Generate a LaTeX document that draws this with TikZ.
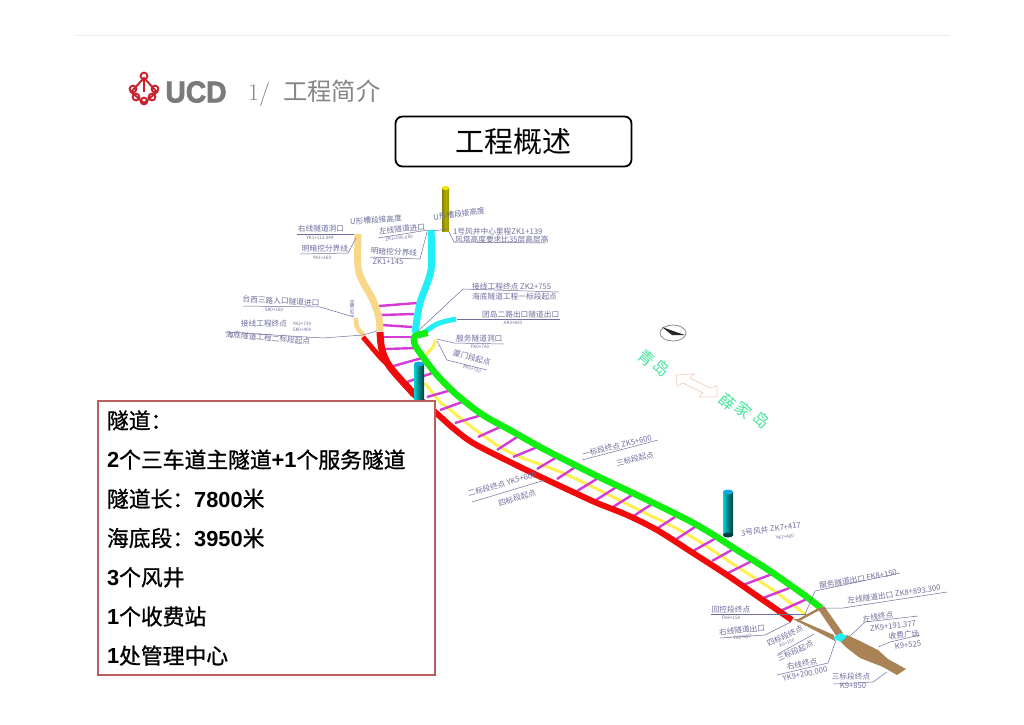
\documentclass[tikz,border=0pt]{standalone}
\usepackage{fontspec}
\usepackage{tikz}
\usetikzlibrary{calc,positioning}
\newfontfamily\cjk{Noto Sans CJK SC}
\newfontfamily\cjkbox[FakeBold=0.9]{Noto Sans CJK SC}
\newfontfamily\liber{Liberation Sans}
\newfontfamily\liberheavy[FakeBold=2.5]{Liberation Sans Bold}
\newcommand{\boxnum}[1]{{\liber\bfseries #1}}
\definecolor{tubered}{HTML}{F00A0A}
\definecolor{tubegreen}{HTML}{12EE12}
\definecolor{tubecyan}{HTML}{22EEF6}
\definecolor{tubeorange}{HTML}{F8D888}
\definecolor{tubeyellow}{HTML}{FFF050}
\definecolor{rungcol}{HTML}{D63AD6}
\definecolor{plazacol}{HTML}{A98255}
\definecolor{labelcol}{HTML}{6E6E9E}
\definecolor{islandcol}{HTML}{45E79A}
\definecolor{logored}{HTML}{C8202C}
\definecolor{boxred}{HTML}{BE5C5C}
\definecolor{shaftolive}{HTML}{B3AD00}
\tikzset{
  tube/.style={line width=#1,line join=round},
  rung/.style={rungcol,line width=2.4pt},
  lab/.style={font=\cjk\fontsize{7.7}{7.7}\selectfont,text=labelcol,inner sep=0pt},
  sublab/.style={font=\cjk\fontsize{4.6}{4.6}\selectfont,text=labelcol,inner sep=0pt},
  lead/.style={labelcol,line width=0.5pt},
  island/.style={font=\cjk\fontsize{16}{16}\selectfont,text=islandcol,inner sep=0pt,rotate=-40}
}
\begin{document}
\begin{tikzpicture}[x=1pt,y=-1pt]
\useasboundingbox (0,0) rectangle (1024,724);
\fill[white] (0,0) rectangle (1024,724);
\draw[black!8,line width=0.6pt] (75,35) -- (950,35);

\foreach \cx/\cy in {144/76,133/89,155/89,136/97,152/97,144/101}
  \draw[logored,line width=1.9pt] (\cx,\cy) circle (3.4);
\draw[logored,line width=1.9pt] (144,78) -- (131,92) -- (144,103) -- (157,92) -- cycle;
\fill[logored] (142.6,80) rectangle (145.4,92);
\node[inner sep=0pt,text=black!52,font=\liberheavy\fontsize{30}{30}\selectfont,xscale=.94] (ucd) at (196,92) {UCD};
\node[inner sep=0pt,text=black!48,font=\fontsize{24}{24}\selectfont,right] (sect) at (248,93) {1/\hspace{13pt}{\cjk\fontsize{24.3}{24.3}\selectfont 工程简介}};

\node[shape=rectangle,draw,rounded corners=7pt,line width=1.8pt,minimum width=236pt,minimum height=50pt,font=\cjk\fontsize{29}{29}\selectfont,inner sep=0pt] (title) at (513.5,141.5) {\raisebox{-2pt}{工程概述}};

\draw[tubeyellow,line width=3pt] plot[smooth] coordinates {(425,383) (440,402) (453,412) (473,428) (500,447) (523,458) (563,473) (603,492) (643,512) (670,525) (697,540) (730,562) (773,590) (793,605) (805,614)};
\draw[tubeyellow,line width=3pt] plot[smooth] coordinates {(435,340) (433,347) (422,358)};

\foreach \ax/\ay/\bx/\by in {379/306/417/303,381/315/414/314,382/325/412/327,383/337/413/337,385/349/417/348,390/367/422/358,407/382/435/372,427/397/455/389,440/410/465/401,455/423/482/415,478/437/500/427,497/450/517/437,513/457/540/446,537/469/557/457,557/479/577/466,577/491/600/477,596/500/618/486,613/507/632/495,632/517/652/504,655/530/678/515,675/540/698/525,693/551/718/537,712/561/737/547,728/573/756/559,743/585/775/573,763/598/792/587,780/611/807/599}
  \draw[rung] (\ax,\ay) -- (\bx,\by);

\draw[tubeorange,tube=7pt] plot[smooth] coordinates {(358,234) (358,267) (363,282) (373,300) (379,318) (380,331)};
\draw[tubeorange,tube=4.5pt] plot[smooth] coordinates {(356,318) (357,327) (364,336)};
\draw[tubecyan,tube=7pt] plot[smooth] coordinates {(431,230) (431,270) (420,303) (415,333)};
\draw[tubecyan,tube=5pt] plot[smooth] coordinates {(418,337) (437,324) (456,319)};
\draw[tubered,tube=7pt] plot[smooth] coordinates {(380,332) (382,350) (390,367) (413,393)};
\draw[tubered,tube=5pt] plot[smooth] coordinates {(363,337) (380,357) (392,369)};
\draw[tubered,tube=6pt] plot[smooth] coordinates {(412,393) (435,412) (453,428) (473,443) (510,462) (543,478) (573,492) (597,503) (627,515) (657,530) (693,553) (727,575) (760,598) (792,620)};
\draw[tubegreen,tube=6.5pt] plot[smooth] coordinates {(428,333) (415,336) (415,345) (423,357) (437,375) (457,395) (483,415) (510,430) (540,447) (575,465) (597,476) (637,495) (678,515) (697,525) (717,537) (737,550) (753,560) (773,573) (793,587) (807,597) (821,608)};

\fill[plazacol] (793,619) -- (797,619) -- (834,635) -- (835,641) -- cycle;
\fill[plazacol] (818,609) -- (824,606) -- (843,633) -- (837,637) -- cycle;
\draw[plazacol,line width=2.4pt] (797,621) -- (819,609);
\fill[plazacol] (840,641) -- (847,635) -- (860,641) -- (878,650) -- (888,659) -- (906,669) -- (897,675) -- (883,667) -- (860,658) -- (847,648) -- cycle;
\fill[tubecyan] (833,638) -- (840,633) -- (847,636) -- (841,642) -- cycle;

\shade[left color=shaftolive!75!black,right color=shaftolive!85!black,middle color=shaftolive] (442,188) rectangle (449,231);
\fill[yellow!90!olive] (445.5,188) ellipse [x radius=3.5,y radius=2];
\shade[left color=cyan!70!teal,right color=teal!50!black,middle color=teal] (414,364) rectangle (424,402);
\fill[cyan!85!teal] (419,364) ellipse [x radius=5,y radius=2.5];
\shade[left color=cyan!70!teal,right color=teal!50!black,middle color=teal] (723,492) rectangle (733,535);
\fill[cyan!85!teal] (728,492) ellipse [x radius=5,y radius=2.5];
\fill[teal!50!black] (728,535) ellipse [x radius=5,y radius=2.5];

\draw[lead] (297,234) -- (354,234);
\draw[lead] (300,254) -- (348,253) -- (356,238);
\draw[lead] (378,238) -- (428,230);
\draw[lead] (370,257) -- (420,259) -- (427,232);
\draw[lead] (433,231) -- (447,229);
\draw[lead] (449,232) -- (454,242) -- (545,243);
\draw[lead] (418,331) -- (463,289) -- (559,292);
\draw[lead] (457,319) -- (560,319);
\draw[lead] (437,339) -- (454,343) -- (504,344);
\draw[lead] (437,341) -- (447,360) -- (487,370);
\draw[lead] (243,306) -- (320,307) -- (354,317);
\draw[lead] (225,332) -- (323,338) -- (363,335) -- (377,331);
\draw[lead] (472,502) -- (545,480);
\draw[lead] (582,460) -- (658,440);
\draw[lead] (815,591) -- (805,614);
\draw[lead] (815,591) -- (900,573);
\draw[lead] (821,608) -- (843,608) -- (947,592);
\draw[lead] (711,614) -- (806,614);
\draw[lead] (720,638) -- (765,635) -- (791,622);
\draw[lead] (778,654) -- (814,634);
\draw[lead] (777,675) -- (828,663) -- (836,640);
\draw[lead] (850,636) -- (865,622) -- (918,616);
\draw[lead] (878,647) -- (890,642) -- (920,635);
\draw[lead] (833,684) -- (873,682) -- (887,672);

\node[lab] (rin) at (321,229) {右线隧道洞口};
\node[sublab] (rinkm) at (320,238) {YK1+112.044};
\node[lab,rotate=4] (rcut) at (376,220) {U形槽段接高度};
\node[lab,rotate=6] (lin) at (402,229) {左线隧道进口};
\node[sublab,rotate=6] (linkm) at (399,238) {ZK1+095.080};
\node[lab] (rbnd) at (325,249) {明暗挖分界线};
\node[sublab] (rbndkm) at (322,258) {YK1+160};
\node[lab,rotate=-3] (lbnd) at (394,252) {明暗挖分界线};
\node[lab] (lbndkm) at (388,262) {ZK1+145};
\node[lab,rotate=8] (lcut) at (459,214) {U形槽段接高度};
\node[lab,right] (shaft) at (453,232) {1号风井中心里程ZK1+139};
\node[lab,right] (shafth) at (455,240) {风塔高度要求比35层高层高};
\node[lab,right] (endtwo) at (472,287) {接线工程终点 ZK2+755};
\node[lab,right] (startone) at (472,297) {海底隧道工程一标段起点};
\node[lab,right] (exit) at (482,315) {团岛二路出口隧道出口};
\node[sublab] (exitkm) at (513,323) {AK0+693};
\node[lab,right] (serv) at (456,339) {服务隧道洞口};
\node[sublab] (servkm) at (480,347) {FK0+780};
\node[lab,rotate=-15] (xia) at (472,358) {厦门段起点};
\node[sublab,rotate=-15] (xiakm) at (472,369) {FK0+720};
\node[lab,rotate=-3] (taixi) at (281,301) {台西三路入口隧道进口};
\node[sublab] (taixikm) at (274,310) {SK0+180};
\node[sublab,rotate=90] (vcut) at (352,308) {U形槽段};
\node[lab] (endone) at (264,324) {接线工程终点};
\node[sublab] (endonea) at (302,324) {YK2+730};
\node[sublab] (endoneb) at (302,330) {SK0+400};
\node[lab,rotate=-5] (starttwo) at (268,338) {海底隧道工程二标段起点};
\node[lab,rotate=16] (mida) at (502,484) {二标段终点 YK5+600};
\node[lab,rotate=16] (midb) at (517,498) {四标段起点};
\node[lab,rotate=14] (midc) at (617,446) {一标段终点 ZK5+600};
\node[lab,rotate=14] (midd) at (635,459) {三标段起点};
\node[lab,rotate=8] (wind) at (771,529) {3号风井 ZK7+417};
\node[sublab,rotate=8] (windkm) at (785,537) {YK7+430};
\node[lab,rotate=10] (fout) at (858,579) {服务隧道出口 FK8+150};
\node[lab,rotate=8] (lout) at (894,594) {左线隧道出口 ZK8+893.300};
\node[lab] (bend) at (731,610) {回控段终点};
\node[sublab] (bendkm) at (731,618) {FK8+150};
\node[lab,rotate=6] (rout) at (742,630) {右线隧道出口};
\node[sublab,rotate=6] (routkm) at (742,637) {YK8+900};
\node[lab,rotate=24] (fourend) at (785,636) {四标段终点};
\node[sublab,rotate=24] (fourkm) at (787,643) {K9+150};
\node[lab,rotate=24] (threest) at (795,651) {三标段起点};
\node[lab,rotate=10] (rend) at (802,664) {右线终点};
\node[lab,rotate=12] (rendkm) at (805,674) {YK9+200.000};
\node[lab,rotate=8] (lend) at (878,617) {左线终点};
\node[lab,rotate=6] (lendkm) at (893,626) {ZK9+191.377};
\node[lab,rotate=6] (plaza) at (904,635) {收费广场};
\node[lab,rotate=6] (plazakm) at (908,645) {K9+525};
\node[lab] (three) at (851,677) {三标段终点};
\node[lab] (threekm) at (853,686) {K9+850};

\draw[black!45,line width=0.8pt] (673,333) ellipse [x radius=13,y radius=8];
\fill[black!85] (662,327) -- (676,332) -- (685,335) -- (672,335) -- cycle;

\node[island] (qa) at (647,358) {青};
\node[island] (qb) at (662,368) {岛};
\node[island] (xa) at (728,402) {薛};
\node[island] (xb) at (744,410) {家};
\node[island] (xc) at (762,420) {岛};
\draw[red!20!brown!30,line width=0.7pt] (676,375) -- (694,374) -- (690,378) -- (710,388) -- (717,386) -- (717,397) -- (699,397) -- (703,393) -- (683,383) -- (677,386) -- cycle;

\node[shape=rectangle,draw=boxred,fill=white,line width=2pt,minimum width=337pt,minimum height=274pt,text width=318pt,inner sep=0pt,align=left,font=\cjkbox\fontsize{21.8}{39.2}\selectfont] (info) at (266,538) {隧道：\\ \boxnum{2}个三车道主隧道\boxnum{+1}个服务隧道\\ 隧道长：\boxnum{7800}米\\ 海底段：\boxnum{3950}米\\ \boxnum{3}个风井\\ \boxnum{1}个收费站\\ \boxnum{1}处管理中心};
\end{tikzpicture}
\end{document}
